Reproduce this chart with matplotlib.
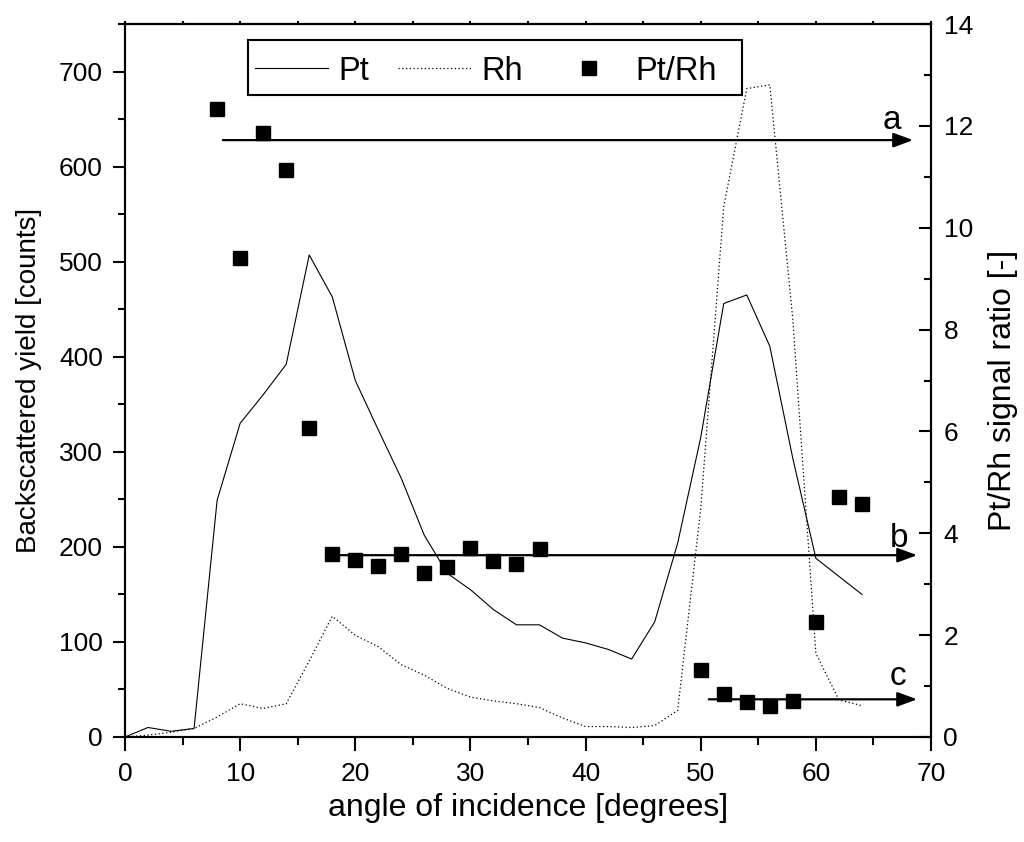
import matplotlib
matplotlib.use("Agg")
import matplotlib.pyplot as plt
from matplotlib.ticker import MultipleLocator
from matplotlib.lines import Line2D
from matplotlib.patches import Rectangle

plt.rcParams['font.family'] = ['Liberation Sans', 'DejaVu Sans']

# angle of incidence [degrees]
angle = [0, 2, 4, 6, 8, 10, 12, 14, 16, 18, 20, 22, 24, 26, 28, 30, 32,
         34, 36, 38, 40, 42, 44, 46, 48, 50, 52, 54, 56, 58, 60, 62, 64]

# backscattered yield [counts]
pt_yield = [0, 10, 6, 9, 249, 330, 360, 392, 507, 463, 375, 323, 272, 212,
            172, 155, 134, 118, 118, 104, 99, 92, 82, 121, 204, 315, 456,
            465, 411, 293, 188, 169, 150]
rh_yield = [0, 2, 5, 9, 21, 35, 30, 35, 80, 127, 107, 95, 76, 65, 51, 42, 38,
            35, 31, 20, 11, 11, 10, 12, 28, 240, 558, 682, 686, 439, 88, 39, 33]

# Pt/Rh signal ratio
ratio_angle = [8, 10, 12, 14, 16, 18, 20, 22, 24, 26, 28, 30, 32, 34, 36,
               50, 52, 54, 56, 58, 60, 62, 64]
ratio = [12.33, 9.41, 11.85, 11.14, 6.06, 3.60, 3.47, 3.36, 3.60, 3.22, 3.34,
         3.72, 3.46, 3.39, 3.70, 1.31, 0.84, 0.69, 0.61, 0.71, 2.26, 4.71, 4.57]

# guide arrows: label, start angle, end angle, level
arrow_names = ['a', 'b', 'c']
arrow_start = [8.5, 18.5, 50.7]
arrow_end = [68.45, 68.8, 68.8]
arrow_level = [11.72, 3.57, 0.74]
label_pos = [(66.6, 11.94), (67.2, 3.73), (67.1, 1.02)]

fig = plt.figure(figsize=(10.24, 8.42), dpi=100)
ax = fig.add_axes([125 / 1024, 105 / 842, 806 / 1024, 713 / 842])
ax2 = ax.twinx()

dotted = (0, (1, 2))
ax.plot(angle, pt_yield, color='k', lw=0.8)
ax.plot(angle, rh_yield, color='k', lw=0.9, linestyle=dotted)
ax2.plot(ratio_angle, ratio, 's', color='k', ms=9.5, linestyle='none')

for name, x0, x1, lvl, pos in zip(arrow_names, arrow_start, arrow_end,
                                  arrow_level, label_pos):
    ax2.annotate('', xy=(x1, lvl), xytext=(x0, lvl),
                 arrowprops=dict(arrowstyle='-|>,head_length=0.6,head_width=0.22',
                                 lw=1.6, color='k', mutation_scale=20,
                                 shrinkA=0, shrinkB=0))
    ax2.text(pos[0], pos[1], name, fontsize=24, ha='center', va='baseline')

ax.set_xlim(0, 70)
ax.set_ylim(0, 750)
ax2.set_ylim(0, 14)

ax.xaxis.set_major_locator(MultipleLocator(10))
ax.xaxis.set_minor_locator(MultipleLocator(5))
ax.yaxis.set_major_locator(MultipleLocator(100))
ax.yaxis.set_minor_locator(MultipleLocator(50))
ax2.yaxis.set_major_locator(MultipleLocator(2))
ax2.yaxis.set_minor_locator(MultipleLocator(1))

ax.tick_params(axis='both', which='major', labelsize=19, width=1.5)
ax.tick_params(axis='y', which='major', direction='out', length=9, pad=7)
ax.tick_params(axis='y', which='minor', direction='out', length=5, width=1.5)
ax.tick_params(axis='x', which='major', direction='out', length=10, pad=8)
ax.tick_params(axis='x', which='minor', direction='out', length=6, width=1.5)
ax2.tick_params(axis='y', which='major', direction='in', length=9, width=1.5,
                labelsize=19, pad=9)
ax2.tick_params(axis='y', which='minor', direction='in', length=5, width=1.5)

# tiny ticks along the top edge
top = ax.secondary_xaxis('top')
top.xaxis.set_major_locator(MultipleLocator(5))
top.tick_params(direction='out', length=2, width=1.5, labeltop=False)

for a in (ax, ax2, top):
    for s in a.spines.values():
        s.set_linewidth(1.5)

ax.set_xlabel('angle of incidence [degrees]', fontsize=23)
ax.set_ylabel('Backscattered yield [counts]', fontsize=20)
ax2.set_ylabel('Pt/Rh signal ratio [-]', fontsize=23)
ax.xaxis.set_label_coords(0.5, -0.079)
ax.yaxis.set_label_coords(-0.103, 0.5)
ax2.yaxis.set_label_coords(1.071, 0.486)

handles = [Line2D([], [], color='k', lw=0.8),
           Line2D([], [], color='k', lw=0.9, linestyle=dotted),
           Line2D([], [], color='k', marker='s', ms=9.5, linestyle='none')]
leg = ax2.legend(handles, ['Pt', 'Rh', 'Pt/Rh'], ncol=3, fontsize=23.5,
                 loc='center left', bbox_to_anchor=(255 / 1024, 1 - 71 / 842),
                 bbox_transform=fig.transFigure, frameon=False,
                 borderaxespad=0, borderpad=0, handlelength=2.25,
                 handletextpad=0.3, columnspacing=0.9)

# legend frame
fig.patches.append(Rectangle((248 / 1024, 1 - 95 / 842), 494 / 1024, 55 / 842,
                             transform=fig.transFigure, fill=False,
                             edgecolor='k', lw=1.5, zorder=5))

fig.savefig('out.png', dpi=100)
